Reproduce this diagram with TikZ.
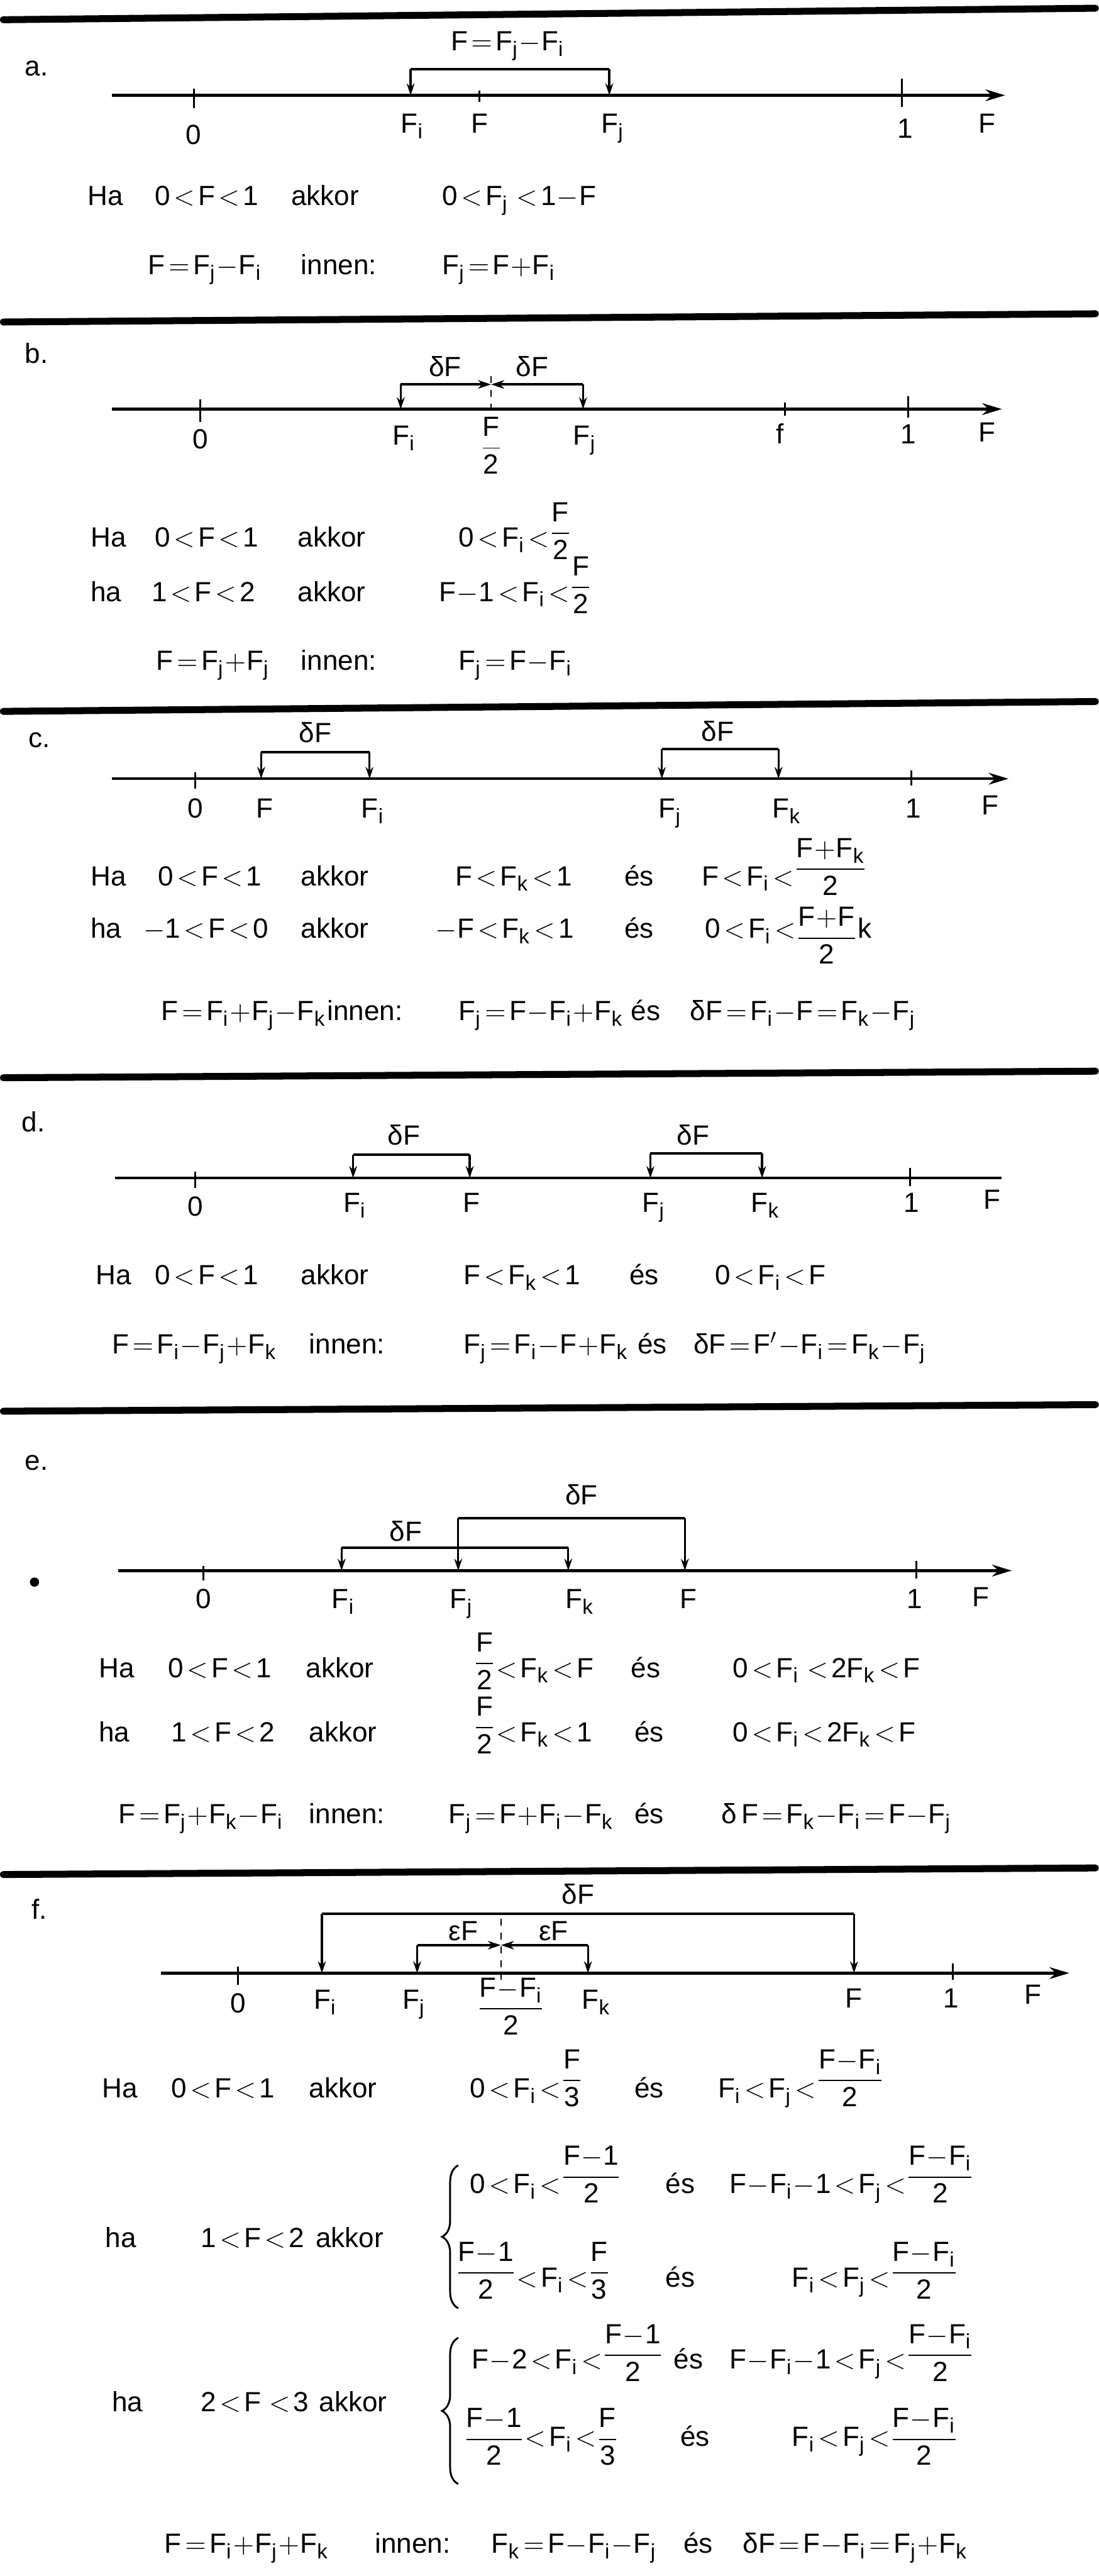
\documentclass[tikz,border=0pt]{standalone}
\usepackage{amsmath}
\usepackage{fontspec}
\setmainfont{Liberation Sans}
\setmathrm{Liberation Sans}
\usetikzlibrary{arrows.meta,decorations.pathreplacing}
\DeclareMathSizes{12}{12}{9}{7}
\thickmuskip=2.2mu
\medmuskip=0.5mu
\newcommand{\mth}[1]{$\mathrm{#1}$}
\newcommand{\frc}[3][3pt]{\raisebox{#1}{$\displaystyle\mathrm{\frac{#2}{#3}}$}}
\newcommand{\dlt}{\mbox{δ}}
\newcommand{\epsl}{\mbox{ε}}
\tikzset{
  rule/.style={line width=3pt,line cap=round},
  axisline/.style={line width=1.2pt,-{Stealth[length=3mm,width=1.8mm]}},
  axisplain/.style={line width=1.2pt},
  tck/.style={line width=0.8pt},
  brk/.style={line width=1.1pt},
  leg/.style={line width=0.9pt,-{Stealth[length=1.8mm,width=1.2mm]}},
  mid/.style={line width=1.1pt,-{Stealth[length=2mm,width=1.3mm]}},
  guide/.style={line width=0.6pt,dashed},
  lbl/.style={anchor=base,inner sep=0pt},
  txt/.style={anchor=base west,inner sep=0pt},
}
\begin{document}
\begin{tikzpicture}[x=0.025cm,y=-0.025cm,font=\fontsize{12}{14}\selectfont]
  \useasboundingbox (0,0) rectangle (669,1568);

  % a.
  \draw[rule] (2,12) -- (667,5);
  \node[txt] (a-tag) at (15,46) {a.};
  \coordinate (a-Fi) at (250,58);
  \coordinate (a-Fj) at (371,58);
  \draw[axisline] (68,58) -- (612,58);
  \foreach \x/\a/\b in {118/54/66,292/55/62,549/48/65}
    \draw[tck] (\x,\a) -- (\x,\b);
  \draw[brk] (250,42) -- (371,42);
  \draw[leg] (250,42) -- (a-Fi);
  \draw[leg] (371,42) -- (a-Fj);
  \node[lbl] (a-top) at (309,31) {\mth{F=F_j-F_i}};
  \node[lbl] (a-l0) at (118,88) {0};
  \node[lbl] (a-lFi) at (251,81) {\mth{F_i}};
  \node[lbl] (a-lF) at (292,81) {F};
  \node[lbl] (a-lFj) at (373,81) {\mth{F_j}};
  \node[lbl] (a-l1) at (551,84) {1};
  \node[lbl] (a-lx) at (601,81) {F};
  \node[txt] (a-ha) at (53,125) {Ha};
  \node[txt] (a-rng) at (94,125) {\mth{0<F<1}};
  \node[txt] (a-akk) at (177,125) {akkor};
  \node[txt] (a-cnd) at (269,125) {\mth{0<F_j\,<1-F}};
  \node[txt] (a-eq) at (90,167) {\mth{F=F_j-F_i}};
  \node[txt] (a-inn) at (183,167) {innen:};
  \node[txt] (a-res) at (269,167) {\mth{F_j=F+F_i}};

  % b.
  \draw[rule] (2,196) -- (667,191);
  \node[txt] (b-tag) at (15,221) {b.};
  \coordinate (b-Fi) at (244,249);
  \coordinate (b-Fj) at (355,249);
  \coordinate (b-mid) at (299,234);
  \draw[axisline] (68,249) -- (610,249);
  \foreach \x/\a/\b in {122/243/257,478/245/253,553/241/254}
    \draw[tck] (\x,\a) -- (\x,\b);
  \draw[mid] (244,234) -- (b-mid);
  \draw[mid] (355,234) -- (b-mid);
  \draw[leg] (244,234) -- (b-Fi);
  \draw[leg] (355,234) -- (b-Fj);
  \draw[guide] (299,229) -- (299,252);
  \node[lbl] (b-d1) at (271,229) {\dlt F};
  \node[lbl] (b-d2) at (324,229) {\dlt F};
  \node[lbl] (b-l0) at (122,273) {0};
  \node[lbl] (b-lFi) at (246,271) {\mth{F_i}};
  \node[lbl] (b-lh) at (299,277) {\mth{\dfrac{F}{2}}};
  \node[lbl] (b-lFj) at (356,271) {\mth{F_j}};
  \node[lbl] (b-lf) at (475,270) {f};
  \node[lbl] (b-l1) at (553,270) {1};
  \node[lbl] (b-lx) at (601,269) {F};
  \node[txt] (b-ha1) at (55,333) {Ha};
  \node[txt] (b-rng1) at (94,333) {\mth{0<F<1}};
  \node[txt] (b-akk1) at (181,333) {akkor};
  \node[txt] (b-cnd1) at (279,333) {\mth{0<F_i<}\frc{F}{2}};
  \node[txt] (b-ha2) at (55,366) {ha};
  \node[txt] (b-rng2) at (92,366) {\mth{1<F<2}};
  \node[txt] (b-akk2) at (181,366) {akkor};
  \node[txt] (b-cnd2) at (267,366) {\mth{F-1<F_i<}\frc{F}{2}};
  \node[txt] (b-eq) at (95,408) {\mth{F=F_j+F_j}};
  \node[txt] (b-inn) at (183,408) {innen:};
  \node[txt] (b-res) at (279,408) {\mth{F_j=F-F_i}};

  % c.
  \draw[rule] (2,433) -- (667,427);
  \node[txt] (c-tag) at (17,455) {c.};
  \coordinate (c-F) at (159,474);
  \coordinate (c-Fi) at (225,474);
  \coordinate (c-Fj) at (403,474);
  \coordinate (c-Fk) at (474,474);
  \draw[axisline] (68,474) -- (614,474);
  \foreach \x/\a/\b in {119/470/480,555/469/478}
    \draw[tck] (\x,\a) -- (\x,\b);
  \draw[brk] (159,458) -- (225,458);
  \draw[leg] (159,458) -- (c-F);
  \draw[leg] (225,458) -- (c-Fi);
  \draw[brk] (403,456) -- (474,456);
  \draw[leg] (403,456) -- (c-Fj);
  \draw[leg] (474,456) -- (c-Fk);
  \node[lbl] (c-d1) at (192,452) {\dlt F};
  \node[lbl] (c-d2) at (437,451) {\dlt F};
  \node[lbl] (c-l0) at (119,498) {0};
  \node[lbl] (c-lF) at (161,498) {F};
  \node[lbl] (c-lFi) at (227,498) {\mth{F_i}};
  \node[lbl] (c-lFj) at (408,498) {\mth{F_j}};
  \node[lbl] (c-lFk) at (479,498) {\mth{F_k}};
  \node[lbl] (c-l1) at (556,498) {1};
  \node[lbl] (c-lx) at (603,496) {F};
  \node[txt] (c-ha1) at (55,539) {Ha};
  \node[txt] (c-rng1) at (96,539) {\mth{0<F<1}};
  \node[txt] (c-akk1) at (183,539) {akkor};
  \node[txt] (c-cnd1) at (277,539) {\mth{F<F_k<1}};
  \node[txt] (c-es1) at (380,539) {és};
  \node[txt] (c-cnd2) at (427,539) {\mth{F<F_i<}\frc[4pt]{F+F_k}{2}};
  \node[txt] (c-ha2) at (55,571) {ha};
  \node[txt] (c-rng2) at (87,571) {\mth{-1<F<0}};
  \node[txt] (c-akk2) at (183,571) {akkor};
  \node[txt] (c-cnd3) at (265,571) {\mth{-F<F_k<1}};
  \node[txt] (c-es2) at (380,571) {és};
  \node[txt] (c-cnd4) at (429,571) {\mth{0<F_i<}\frc[-3pt]{F+F}{2}k};
  \node[txt] (c-eq) at (98,621) {\mth{F=F_i+F_j-F_k}};
  \node[txt] (c-inn) at (199,621) {innen:};
  \node[txt] (c-res) at (279,621) {\mth{F_j=F-F_i+F_k}};
  \node[txt] (c-es3) at (384,621) {és};
  \node[txt] (c-dF) at (420,621) {\mth{\dlt F=F_i-F=F_k-F_j}};

  % d.
  \draw[rule] (2,656) -- (667,652);
  \node[txt] (d-tag) at (13,689) {d.};
  \coordinate (d-Fi) at (215,717);
  \coordinate (d-F) at (286,717);
  \coordinate (d-Fj) at (396,717);
  \coordinate (d-Fk) at (464,717);
  \draw[axisplain] (70,717) -- (610,717);
  \foreach \x/\a/\b in {119/713/723,554/711/722}
    \draw[tck] (\x,\a) -- (\x,\b);
  \draw[brk] (215,703) -- (286,703);
  \draw[leg] (215,703) -- (d-Fi);
  \draw[leg] (286,703) -- (d-F);
  \draw[brk] (396,702) -- (464,702);
  \draw[leg] (396,702) -- (d-Fj);
  \draw[leg] (464,702) -- (d-Fk);
  \node[lbl] (d-d1) at (246,697) {\dlt F};
  \node[lbl] (d-d2) at (422,697) {\dlt F};
  \node[lbl] (d-l0) at (119,740) {0};
  \node[lbl] (d-lFi) at (216,738) {\mth{F_i}};
  \node[lbl] (d-lF) at (287,738) {F};
  \node[lbl] (d-lFj) at (398,738) {\mth{F_j}};
  \node[lbl] (d-lFk) at (466,738) {\mth{F_k}};
  \node[lbl] (d-l1) at (555,738) {1};
  \node[lbl] (d-lx) at (604,736) {F};
  \node[txt] (d-ha) at (58,782) {Ha};
  \node[txt] (d-rng) at (94,782) {\mth{0<F<1}};
  \node[txt] (d-akk) at (183,782) {akkor};
  \node[txt] (d-cnd1) at (282,782) {\mth{F<F_k<1}};
  \node[txt] (d-es1) at (383,782) {és};
  \node[txt] (d-cnd2) at (435,782) {\mth{0<F_i<F}};
  \node[txt] (d-eq) at (68,824) {\mth{F=F_i-F_j+F_k}};
  \node[txt] (d-inn) at (188,824) {innen:};
  \node[txt] (d-res) at (282,824) {\mth{F_j=F_i-F+F_k}};
  \node[txt] (d-es2) at (388,824) {és};
  \node[txt] (d-dF) at (422,824) {\mth{\dlt F=F'-F_i=F_k-F_j}};

  % e.
  \draw[rule] (2,859) -- (667,855);
  \node[txt] (e-tag) at (15,895) {e.};
  \fill (21,963) circle[radius=2pt];
  \coordinate (e-Fi) at (208,956);
  \coordinate (e-Fj) at (279,956);
  \coordinate (e-Fk) at (346,956);
  \coordinate (e-F) at (417,956);
  \draw[axisline] (72,956) -- (616,956);
  \foreach \x/\a/\b in {124/953/962,558/950/961}
    \draw[tck] (\x,\a) -- (\x,\b);
  \draw[brk] (279,924) -- (417,924);
  \draw[leg] (279,924) -- (e-Fj);
  \draw[leg] (417,924) -- (e-F);
  \draw[brk] (208,942) -- (346,942);
  \draw[leg] (208,942) -- (e-Fi);
  \draw[leg] (346,942) -- (e-Fk);
  \node[lbl] (e-d1) at (354,916) {\dlt F};
  \node[lbl] (e-d2) at (247,938) {\dlt F};
  \node[lbl] (e-l0) at (124,979) {0};
  \node[lbl] (e-lFi) at (209,979) {\mth{F_i}};
  \node[lbl] (e-lFj) at (281,979) {\mth{F_j}};
  \node[lbl] (e-lFk) at (353,979) {\mth{F_k}};
  \node[lbl] (e-lF) at (419,979) {F};
  \node[lbl] (e-l1) at (557,979) {1};
  \node[lbl] (e-lx) at (597,978) {F};
  \node[txt] (e-ha1) at (60,1021) {Ha};
  \node[txt] (e-rng1) at (102,1021) {\mth{0<F<1}};
  \node[txt] (e-akk1) at (186,1021) {akkor};
  \node[txt] (e-cnd1) at (288,1021) {\frc{F}{2}\mth{<F_k<F}};
  \node[txt] (e-es1) at (384,1021) {és};
  \node[txt] (e-cnd2) at (446,1021) {\mth{0<F_i\,<2F_k<F}};
  \node[txt] (e-ha2) at (60,1060) {ha};
  \node[txt] (e-rng2) at (104,1060) {\mth{1<F<2}};
  \node[txt] (e-akk2) at (188,1060) {akkor};
  \node[txt] (e-cnd3) at (288,1060) {\frc{F}{2}\mth{<F_k<1}};
  \node[txt] (e-es2) at (386,1060) {és};
  \node[txt] (e-cnd4) at (446,1060) {\mth{0<F_i<2F_k<F}};
  \node[txt] (e-eq) at (72,1110) {\mth{F=F_j+F_k-F_i}};
  \node[txt] (e-inn) at (188,1110) {innen:};
  \node[txt] (e-res) at (273,1110) {\mth{F_j=F+F_i-F_k}};
  \node[txt] (e-es3) at (386,1110) {és};
  \node[txt] (e-dF) at (439,1110) {\mth{\dlt\,F=F_k-F_i=F-F_j}};

  % f.
  \draw[rule] (2,1141) -- (667,1137);
  \node[txt] (f-tag) at (19,1168) {f.};
  \coordinate (f-Fi) at (196,1201);
  \coordinate (f-Fj) at (254,1201);
  \coordinate (f-Fk) at (358,1201);
  \coordinate (f-F) at (520,1201);
  \coordinate (f-mid) at (305,1184);
  \draw[axisline] (98,1201) -- (651,1201);
  \foreach \x/\a/\b in {145/1197/1208,580/1195/1205}
    \draw[tck] (\x,\a) -- (\x,\b);
  \draw[brk] (196,1165) -- (520,1165);
  \draw[leg] (196,1165) -- (f-Fi);
  \draw[leg] (520,1165) -- (f-F);
  \draw[mid] (254,1184) -- (f-mid);
  \draw[mid] (358,1184) -- (f-mid);
  \draw[leg] (254,1184) -- (f-Fj);
  \draw[leg] (358,1184) -- (f-Fk);
  \draw[guide] (305,1168) -- (305,1205);
  \node[lbl] (f-dF) at (352,1159) {\dlt F};
  \node[lbl] (f-e1) at (282,1181) {\epsl F};
  \node[lbl] (f-e2) at (337,1181) {\epsl F};
  \node[lbl] (f-l0) at (145,1225) {0};
  \node[lbl] (f-lFi) at (198,1223) {\mth{F_i}};
  \node[lbl] (f-lFj) at (252,1223) {\mth{F_j}};
  \node[lbl] (f-lh) at (311,1227) {\mth{\dfrac{F-F_i}{2}}};
  \node[lbl] (f-lFk) at (363,1223) {\mth{F_k}};
  \node[lbl] (f-lF) at (520,1222) {F};
  \node[lbl] (f-l1) at (579,1222) {1};
  \node[lbl] (f-lx) at (629,1220) {F};
  \node[txt] (f-ha1) at (62,1277) {Ha};
  \node[txt] (f-rng1) at (104,1277) {\mth{0<F<1}};
  \node[txt] (f-akk1) at (188,1277) {akkor};
  \node[txt] (f-cnd1) at (286,1277) {\mth{0<F_i<}\frc[4.5pt]{F}{3}};
  \node[txt] (f-es1) at (386,1277) {és};
  \node[txt] (f-cnd2) at (437,1277) {\mth{F_i<F_j<}\frc[4.5pt]{F-F_i}{2}};
  % 1 < F < 2
  \node[txt] (f-ha2) at (64,1368) {ha};
  \node[txt] (f-rng2) at (122,1368) {\mth{1<F<2}};
  \node[txt] (f-akk2) at (192,1368) {akkor};
  \draw[line width=0.8pt,decorate,decoration={brace,amplitude=7pt}]
    (279,1405) -- (279,1318);
  \node[txt] (f-s1a) at (286,1335) {\mth{0<F_i<}\frc[4pt]{F-1}{2}};
  \node[txt] (f-s1e) at (405,1335) {és};
  \node[txt] (f-s1b) at (444,1335) {\mth{F-F_i-1<F_j<}\frc[4pt]{F-F_i}{2}};
  \node[txt] (f-s2a) at (277,1392) {\frc{F-1}{2}\mth{<F_i<}\frc{F}{3}};
  \node[txt] (f-s2e) at (405,1392) {és};
  \node[txt] (f-s2b) at (482,1392) {\mth{F_i<F_j<}\frc{F-F_i}{2}};
  % 2 < F < 3
  \node[txt] (f-ha3) at (68,1468) {ha};
  \node[txt] (f-rng3) at (122,1468) {\mth{2<F\,<3}};
  \node[txt] (f-akk3) at (194,1468) {akkor};
  \draw[line width=0.8pt,decorate,decoration={brace,amplitude=7pt}]
    (279,1512) -- (279,1423);
  \node[txt] (f-s3a) at (287,1442) {\mth{F-2<F_i<}\frc{F-1}{2}};
  \node[txt] (f-s3e) at (410,1442) {és};
  \node[txt] (f-s3b) at (444,1442) {\mth{F-F_i-1<F_j<}\frc{F-F_i}{2}};
  \node[txt] (f-s4a) at (282,1489) {\frc[0pt]{F-1}{2}\mth{<F_i<}\frc[0pt]{F}{3}};
  \node[txt] (f-s4e) at (414,1489) {és};
  \node[txt] (f-s4b) at (482,1489) {\mth{F_i<F_j<}\frc[0pt]{F-F_i}{2}};
  \node[txt] (f-eq) at (100,1554) {\mth{F=F_i+F_j+F_k}};
  \node[txt] (f-inn) at (228,1554) {innen:};
  \node[txt] (f-res) at (299,1554) {\mth{F_k=F-F_i-F_j}};
  \node[txt] (f-es3) at (416,1554) {és};
  \node[txt] (f-dF) at (452,1554) {\mth{\dlt F=F-F_i=F_j+F_k}};
\end{tikzpicture}
\end{document}
